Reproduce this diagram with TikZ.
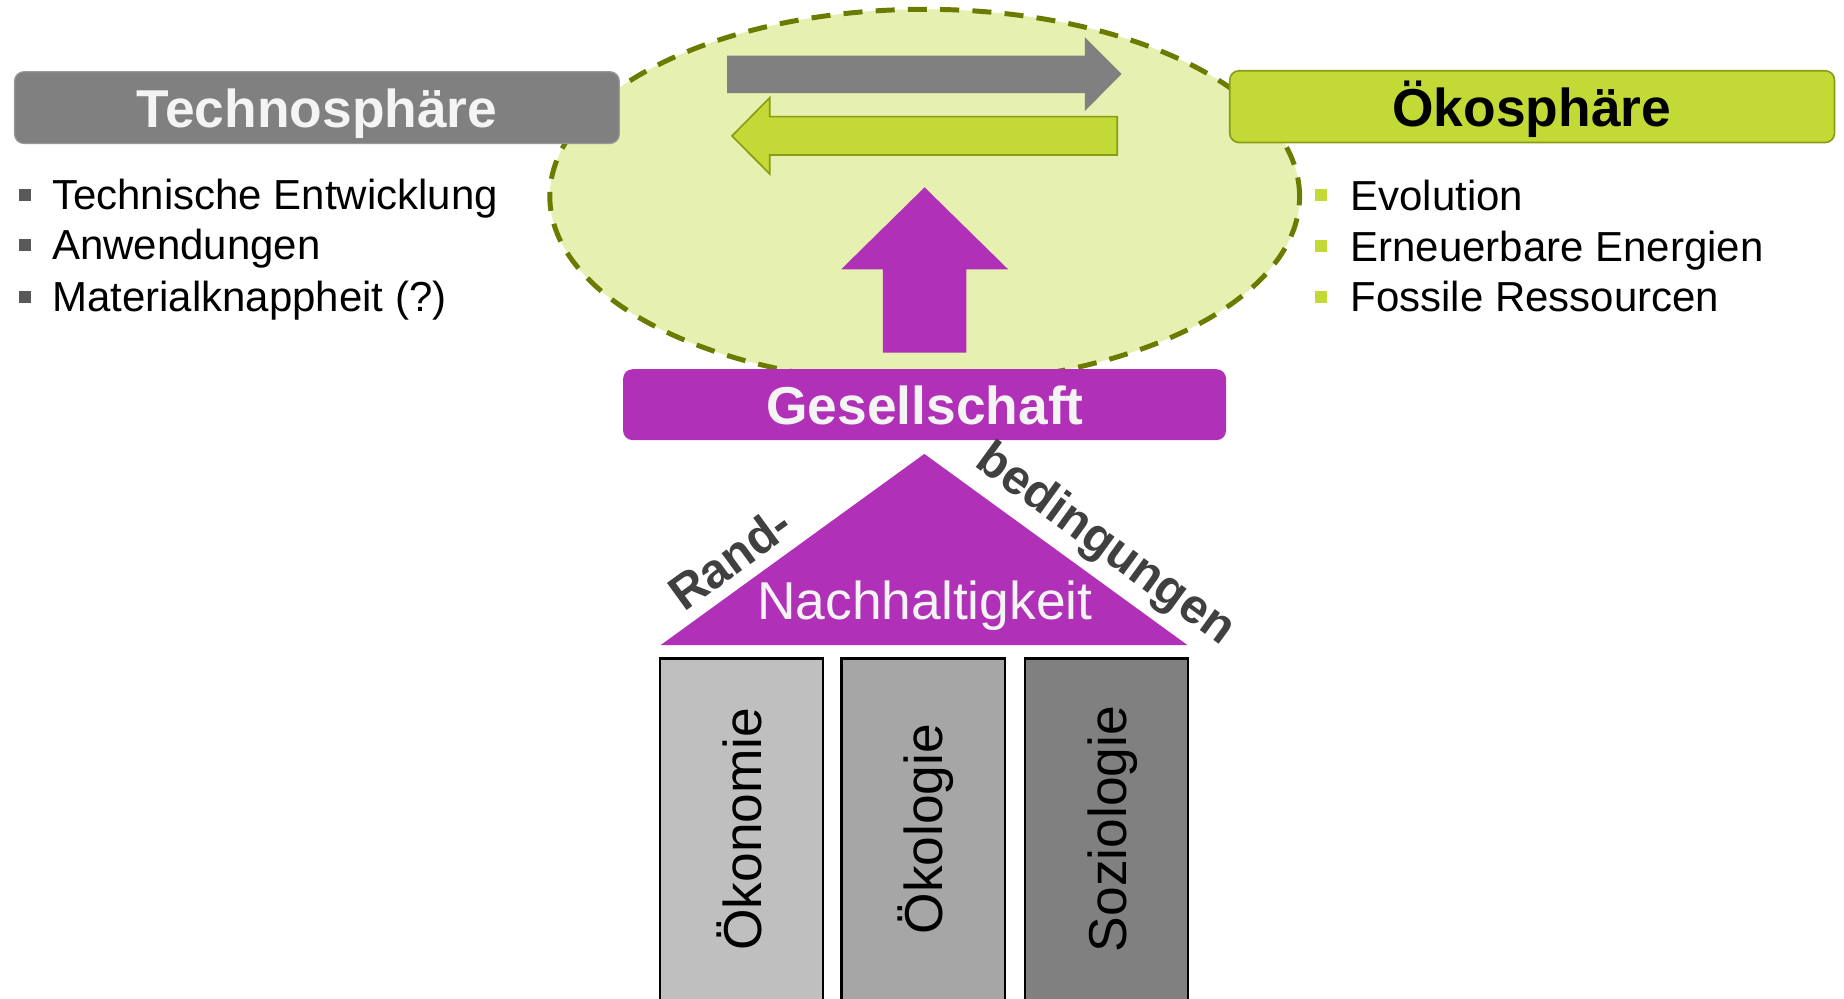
\documentclass[tikz,border=0pt]{standalone}
\usepackage{fontspec}
\setmainfont{Liberation Sans}
\usetikzlibrary{shapes.geometric}
\definecolor{purp}{HTML}{B030B8}
\definecolor{lime}{HTML}{C3D935}
\definecolor{limeline}{HTML}{8A9C14}
\definecolor{ellfill}{HTML}{E6F0B0}
\definecolor{olive}{HTML}{6B7B00}
\definecolor{gray80}{HTML}{808080}
\definecolor{grayA6}{HTML}{A6A6A6}
\definecolor{grayBF}{HTML}{BFBFBF}
\definecolor{dgray}{HTML}{404040}
\definecolor{bulgray}{HTML}{595959}
\definecolor{offwhite}{HTML}{F4F4F4}
\newcommand{\hdrfont}{\fontsize{12.9pt}{15pt}\selectfont\bfseries}
\newcommand{\itemfont}{\fontsize{10.15pt}{12pt}\selectfont}
\newcommand{\roofbold}{\fontsize{11.8pt}{13pt}\selectfont\bfseries}
\newcommand{\bigfont}{\fontsize{12.9pt}{15pt}\selectfont}
\tikzset{
  hdrbox/.style={rectangle, rounded corners=0.08cm, inner sep=0pt},
  txt/.style={inner sep=0pt, outer sep=0pt},
  bul/.style={rectangle, inner sep=0pt, minimum size=0.1cm},
  pillar/.style={rectangle, draw=black, line width=0.55pt, inner sep=0pt, minimum width=1.386cm, minimum height=3.1cm, anchor=north},
}
\begin{document}
\begin{tikzpicture}[x=0.01cm,y=-0.01cm]
\useasboundingbox (0,0) rectangle (1568,849);
\clip (0,0) rectangle (1568,849);
% sphere ellipse
\node[ellipse, fill=ellfill, draw=olive, line width=1.2pt, dash pattern=on 4.6pt off 3.2pt, minimum width=6.372cm, minimum height=3.18cm, inner sep=0pt] (sph) at (786.3,167) {};
% arrows
\fill[gray80] (618.3,47.3) -- (922.5,47.3) -- (922.5,31.7) -- (953.7,62.9) -- (922.5,94.4) -- (922.5,79.1) -- (618.3,79.1) -- cycle;
\filldraw[fill=lime, draw=limeline, line width=0.4pt] (950,99.2) -- (654.6,99.2) -- (654.6,83) -- (622.4,115.6) -- (654.6,148) -- (654.6,131.8) -- (950,131.8) -- cycle;
\fill[purp] (786.2,159.3) -- (857.2,229) -- (821.7,229) -- (821.7,299.9) -- (750.8,299.9) -- (750.8,229) -- (715.3,229) -- cycle;
% header boxes
\node[hdrbox, fill=gray80, draw=gray80!80!white, line width=0.3pt, minimum width=5.14cm, minimum height=0.61cm] (techno) at (269.5,91.5) {};
\node[txt, anchor=base, text=offwhite, font=\hdrfont] (technot) at (269.5,108.6) {Technosphäre};
\node[hdrbox, fill=lime, draw=limeline, line width=0.4pt, minimum width=5.14cm, minimum height=0.61cm] (oeko) at (1302.8,90.7) {};
\node[txt, anchor=base, text=black, font=\hdrfont] (oekot) at (1302.5,107.7) {Ökosphäre};
\node[hdrbox, fill=purp, minimum width=5.124cm, minimum height=0.602cm] (ges) at (786.2,344.1) {};
\node[txt, anchor=base, text=offwhite, font=\hdrfont] (gest) at (786.5,360.8) {Gesellschaft};
% left list
\node[bul, fill=bulgray] (lb1) at (21,165.5) {};
\node[bul, fill=bulgray] (lb2) at (21,208.5) {};
\node[bul, fill=bulgray] (lb3) at (21,252.5) {};
\node[txt, anchor=base west, font=\itemfont] (l1) at (44.4,178) {Technische Entwicklung};
\node[txt, anchor=base west, font=\itemfont] (l2) at (44.4,221) {Anwendungen};
\node[txt, anchor=base west, font=\itemfont] (l3) at (44.4,265) {Materialknappheit (?)};
% right list
\node[bul, fill=lime] (rb1) at (1123,166) {};
\node[bul, fill=lime] (rb2) at (1123,209.5) {};
\node[bul, fill=lime] (rb3) at (1123,252.5) {};
\node[txt, anchor=base west, font=\itemfont] (r1) at (1148.5,178.6) {Evolution};
\node[txt, anchor=base west, font=\itemfont] (r2) at (1148.5,222) {Erneuerbare Energien};
\node[txt, anchor=base west, font=\itemfont] (r3) at (1148.5,265) {Fossile Ressourcen};
% roof
\coordinate (apex) at (786,386);
\coordinate (roofl) at (561.7,548.6);
\coordinate (roofr) at (1009.8,548.6);
\fill[purp] (apex) -- (roofr) -- (roofl) -- cycle;
\node[txt, anchor=base, text=offwhite, font=\bigfont] (nach) at (786.5,527) {Nachhaltigkeit};
\node[txt, anchor=base, rotate=36, text=dgray, font=\roofbold] (rand) at (629.4,486.6) {Rand-};
\node[txt, anchor=base, rotate=-36, text=dgray, font=\roofbold] (bed) at (933,472.4) {bedingungen};
% pillars
\node[pillar, fill=grayBF] (p1) at (630.4,559) {};
\node[pillar, fill=grayA6] (p2) at (785,559) {};
\node[pillar, fill=gray80] (p3) at (940.9,559) {};
\node[txt, anchor=base, rotate=90, font=\bigfont] (t1) at (647.2,705) {Ökonomie};
\node[txt, anchor=base, rotate=90, font=\bigfont] (t2) at (801.8,705) {Ökologie};
\node[txt, anchor=base, rotate=90, font=\bigfont] (t3) at (957.5,705) {Soziologie};
\end{tikzpicture}
\end{document}
